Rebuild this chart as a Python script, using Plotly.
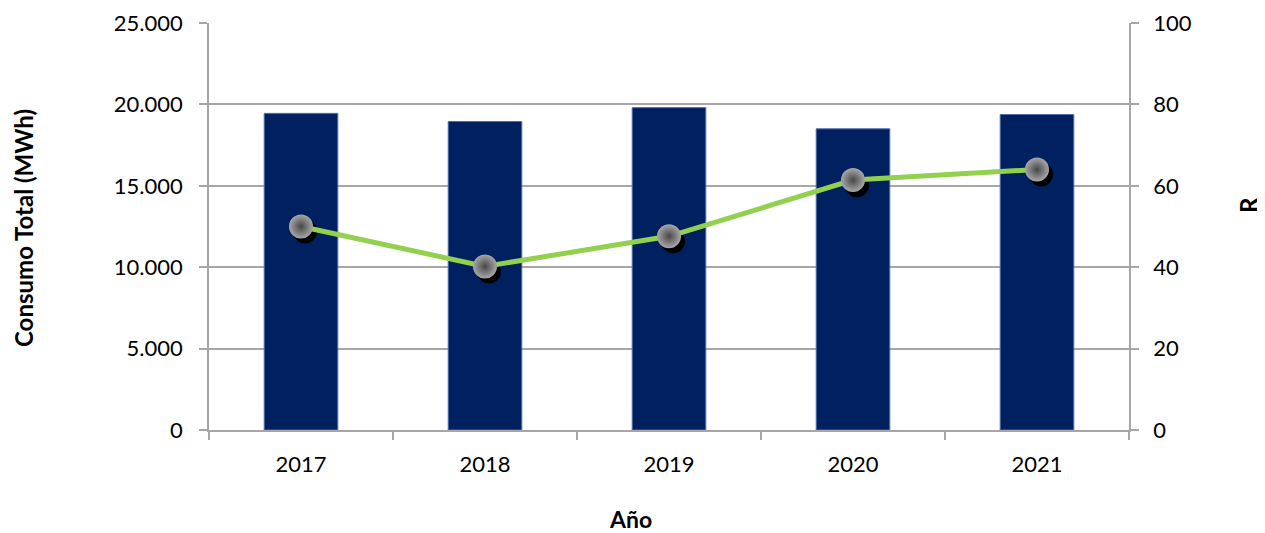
import plotly.graph_objects as go

years = ["2017", "2018", "2019", "2020", "2021"]
consumo = [19450, 18950, 19800, 18500, 19380]
r_vals = [50.0, 40.2, 47.6, 61.4, 64.0]

FONT = "Lato"
GRID = "#A6A6A6"

fig = go.Figure()
fig.add_trace(go.Bar(
    x=years, y=consumo, xaxis="x", yaxis="y",
    marker=dict(color="#002060", line=dict(color="#4F6FA8", width=1)),
    width=0.4, showlegend=False, hoverinfo="skip"))

# shadow of markers (drawn on a hidden, slightly shifted pair of axes)
fig.add_trace(go.Scatter(
    x=years, y=r_vals, xaxis="x2", yaxis="y2", mode="markers",
    marker=dict(size=24, color="#000000"), showlegend=False, hoverinfo="skip"))

# line + sphere markers
fig.add_trace(go.Scatter(
    x=years, y=r_vals, xaxis="x3", yaxis="y3", mode="lines+markers",
    line=dict(color="#92D050", width=5),
    marker=dict(size=24, color="#A8A8A8",
                gradient=dict(type="radial", color="#474747"),
                line=dict(width=0)),
    showlegend=False, hoverinfo="skip"))

n = len(years)
axis_common = dict(showline=True, linecolor=GRID, linewidth=1.5,
                   ticks="outside", ticklen=8, tickcolor=GRID, tickwidth=1.5,
                   tickfont=dict(size=22), automargin=False)
fig.update_layout(
    width=1265, height=533,
    margin=dict(l=201, r=144, t=15, b=111),
    paper_bgcolor="white", plot_bgcolor="white",
    separators=",.",
    font=dict(family=FONT, size=22, color="#000000"),
    bargap=0.6,
    xaxis=dict(type="category", range=[-0.5, n - 0.5], showgrid=False,
               tickson="boundaries", ticklabelstandoff=14, **axis_common),
    yaxis=dict(range=[0, 25000], dtick=5000, tickformat=",.0f",
               showgrid=True, gridcolor=GRID, gridwidth=1.5,
               zeroline=False, ticklabelstandoff=12, **axis_common),
    xaxis2=dict(type="category", overlaying="x", visible=False,
                range=[-0.5 - 0.022, n - 0.5 - 0.022]),
    yaxis2=dict(overlaying="y", visible=False, range=[1.25, 101.25]),
    xaxis3=dict(type="category", overlaying="x", visible=False,
                range=[-0.5, n - 0.5]),
    yaxis3=dict(overlaying="y", side="right", range=[0, 100], dtick=20,
                showgrid=False, zeroline=False, ticklabelstandoff=10,
                **axis_common),
    annotations=[
        dict(text="<b>Consumo Total (MWh)</b>", xref="paper", yref="paper",
             x=(15 - 201) / 920, y=(422 - 220) / 407, textangle=-90,
             showarrow=False, xanchor="center", yanchor="middle",
             font=dict(size=24, family=FONT)),
        dict(text="<b>R</b>", xref="paper", yref="paper",
             x=(1240 - 201) / 920, y=(422 - 197) / 407, textangle=-90,
             showarrow=False, xanchor="center", yanchor="middle",
             font=dict(size=24, family=FONT)),
        dict(text="<b>Año</b>", xref="paper", yref="paper",
             x=(622 - 201) / 920, y=(422 - 511) / 407,
             showarrow=False, xanchor="center", yanchor="middle",
             font=dict(size=23, family=FONT)),
    ],
)

fig.write_html("out.html")
